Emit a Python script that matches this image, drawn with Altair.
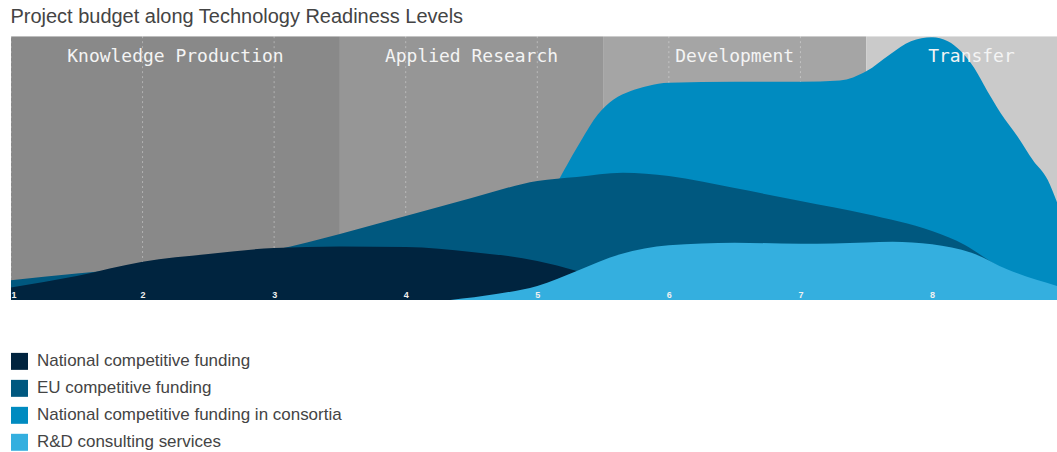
import altair as alt
import pandas as pd

TITLE = "Project budget along Technology Readiness Levels"

# Series (legend order) and colours
series_names = [
    "National competitive funding",
    "EU competitive funding",
    "National competitive funding in consortia",
    "R&D consulting services",
]
series_colors = ["#00243f", "#00587f", "#008bc0", "#34afdf"]

# Values (share of plot height, 0-100) along TRL
nat_x = [1.0, 1.5, 2.0, 2.5, 3.0, 3.5, 4.0, 4.5, 5.0, 5.3, 5.6, 5.9, 6.1]
nat_y = [4.7, 9.1, 14.5, 17.4, 19.7, 20.3, 20.1, 18.2, 14.8, 11.0, 5.7, 1.1, 0.0]

eu_x = [1.0, 1.5, 2.0, 2.5, 3.0, 3.5, 4.0, 4.5, 5.0, 5.3, 5.65, 6.0, 6.5, 7.0, 7.5, 8.0, 8.25, 8.44, 8.7, 8.95]
eu_y = [7.5, 10.0, 12.5, 15.5, 18.9, 25.0, 31.8, 38.6, 45.1, 46.6, 48.2, 47.0, 42.4, 37.5, 32.6, 26.1, 20.8, 14.8, 7.6, 3.0]

cons_x = [4.6, 5.0, 5.2, 5.33, 5.46, 5.58, 5.71, 5.84, 6.0, 6.5, 7.0, 7.3, 7.5, 7.68, 7.84, 8.0,
          8.12, 8.22, 8.32, 8.42, 8.52, 8.65, 8.77, 8.88, 8.95]
cons_y = [0.0, 30.3, 48.9, 60.2, 70.3, 76.0, 79.2, 81.1, 82.3, 82.7, 82.7, 83.2, 86.7, 93.1, 98.1, 99.6,
          98.1, 94.3, 88.0, 79.2, 71.0, 62.0, 52.8, 45.5, 37.0]

rd_x = [4.34, 4.7, 5.0, 5.3, 5.63, 6.0, 6.5, 7.0, 7.5, 7.7, 8.0, 8.3, 8.57, 8.95]
rd_y = [0.0, 2.3, 5.3, 11.0, 17.3, 20.7, 21.7, 21.3, 21.8, 22.1, 21.1, 17.9, 11.6, 5.3]

# Phase bands
band_names = ["Knowledge Production", "Applied Research", "Development", "Transfer"]
band_edges = [1.0, 3.5, 5.5, 7.5, 9.1]
band_colors = ["#898989", "#969696", "#a5a5a5", "#cacaca"]

tick_values = [1, 2, 3, 4, 5, 6, 7, 8]

# ---- build tables ----
rows = []
for name, xs, ys in zip(series_names, [nat_x, eu_x, cons_x, rd_x], [nat_y, eu_y, cons_y, rd_y]):
    for xv, yv in zip(xs, ys):
        rows.append({"series": name, "trl": xv, "value": yv})
df = pd.DataFrame(rows)

bands = pd.DataFrame({
    "name": band_names,
    "start": band_edges[:-1],
    "end": band_edges[1:],
    "color": band_colors,
})
bands["mid"] = (bands["start"] + bands["end"]) / 2

ticks_df = pd.DataFrame({"t": tick_values})

xscale = alt.Scale(domain=[1, 8.95], nice=False, zero=False)
yscale = alt.Scale(domain=[0, 100], nice=False)
xaxis = alt.Axis(
    values=tick_values, title=None, grid=False, domain=False, ticks=False, tickSize=0,
    labelPadding=-2, labelBaseline="alphabetic", labelColor="#f0f0f0", labelFontSize=9,
    labelFontWeight="bold", labelFont="Liberation Sans", labelFlush=True, format="d", zindex=1,
)

color_scale = alt.Scale(domain=series_names, range=series_colors)
legend = alt.Legend(
    title=None, orient="none", legendX=0, legendY=317, symbolType="square", symbolSize=289,
    symbolStrokeWidth=0, symbolOpacity=1, labelFontSize=17, labelFont="Liberation Sans",
    labelColor="#444444", rowPadding=9, labelOffset=9, padding=0, labelLimit=600,
)

band_rect = alt.Chart(bands).mark_rect(clip=True).encode(
    x=alt.X("start:Q", scale=xscale, axis=xaxis),
    x2="end:Q",
    color=alt.Color("color:N", scale=None),
)

grid = alt.Chart(ticks_df).mark_rule(strokeDash=[2, 3], color="white", opacity=0.35, strokeWidth=1).encode(
    x=alt.X("t:Q", scale=xscale, axis=xaxis),
)


def area_layer(name):
    return alt.Chart(df).transform_filter(alt.datum.series == name).mark_area(
        interpolate="monotone", clip=True, opacity=1
    ).encode(
        x=alt.X("trl:Q", scale=xscale, axis=xaxis),
        y=alt.Y("value:Q", scale=yscale, axis=None),
        color=alt.Color("series:N", scale=color_scale, legend=legend),
    )


band_text = alt.Chart(bands).mark_text(
    font="DejaVu Sans Mono", fontSize=18, color="#f4f4f4", baseline="middle", align="center", clip=True
).encode(
    x=alt.X("mid:Q", scale=xscale, axis=xaxis),
    y=alt.value(21),
    text="name:N",
)

chart = alt.layer(
    band_rect,
    grid,
    area_layer(series_names[2]),
    area_layer(series_names[1]),
    area_layer(series_names[0]),
    area_layer(series_names[3]),
    band_text,
).properties(
    width=1047,
    height=264,
    title=alt.TitleParams(
        TITLE, anchor="start", fontSize=20, font="Liberation Sans", fontWeight="normal",
        color="#444444", offset=9,
    ),
    padding={"left": 10, "top": 6, "right": 0, "bottom": 0},
    background="white",
).configure_view(stroke=None)

chart.save("out.html", embed_options={"renderer": "svg", "actions": False})
